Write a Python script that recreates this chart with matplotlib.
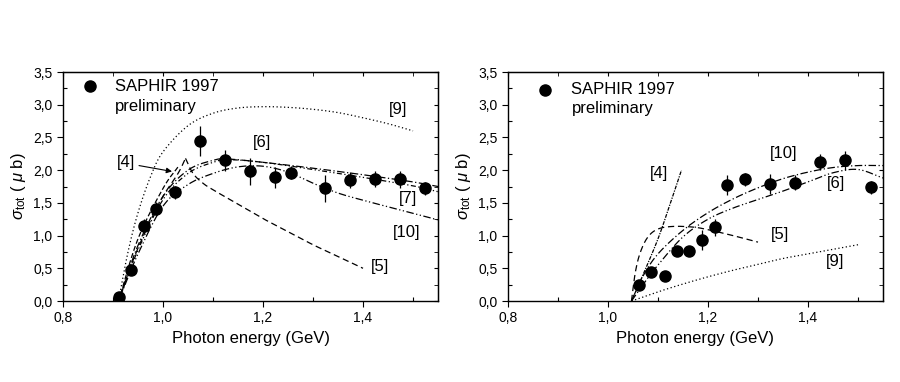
import numpy as np
import matplotlib
matplotlib.use("Agg")
import matplotlib.pyplot as plt
from matplotlib.ticker import MultipleLocator, FuncFormatter

plt.rcParams['font.family'] = ['Liberation Sans', 'DejaVu Sans']
plt.rcParams['mathtext.fontset'] = 'custom'
plt.rcParams['mathtext.rm'] = 'Liberation Sans'
plt.rcParams['mathtext.it'] = 'Liberation Sans:italic'

# ---- left panel: SAPHIR data ----
left_e = [0.911, 0.936, 0.961, 0.986, 1.024, 1.074, 1.124, 1.174, 1.224, 1.256,
          1.324, 1.374, 1.424, 1.474, 1.524]
left_s = [0.06, 0.48, 1.15, 1.41, 1.66, 2.45, 2.15, 1.98, 1.89, 1.96,
          1.72, 1.85, 1.86, 1.86, 1.72]
left_err = [0.03, 0.06, 0.1, 0.1, 0.1, 0.23, 0.16, 0.2, 0.16, 0.1,
            0.2, 0.12, 0.12, 0.13, 0.1]

# model curves, left
l9_x = [0.911, 0.93, 0.95, 0.975, 1.0, 1.05, 1.1, 1.15, 1.2, 1.25, 1.3, 1.35, 1.4, 1.45, 1.5]
l9_y = [0.0, 0.75, 1.35, 1.9, 2.28, 2.68, 2.87, 2.95, 2.97, 2.96, 2.93, 2.88, 2.8, 2.71, 2.6]
l5a_x = [0.911, 0.94, 0.97, 1.0, 1.03, 1.045]
l5a_y = [0.0, 0.62, 1.15, 1.6, 1.95, 2.18]
l5b_x = [1.045, 1.06, 1.08, 1.1, 1.15, 1.2, 1.25, 1.3, 1.35, 1.4]
l5b_y = [2.18, 1.95, 1.8, 1.7, 1.48, 1.26, 1.06, 0.86, 0.68, 0.5]
l4_x = [0.911, 0.95, 1.0, 1.03]
l4_y = [0.0, 0.95, 1.72, 2.05]
l6_x = [0.911, 0.95, 1.0, 1.05, 1.1, 1.13, 1.2, 1.3, 1.4, 1.5, 1.55]
l6_y = [0.0, 0.85, 1.6, 2.0, 2.15, 2.17, 2.12, 2.03, 1.93, 1.82, 1.75]
l7_y = [0.0, 0.78, 1.55, 1.95, 2.12, 2.16, 2.12, 2.01, 1.89, 1.76, 1.67]
l10_x = [0.911, 0.95, 1.0, 1.05, 1.1, 1.15, 1.2, 1.25, 1.3, 1.35, 1.4, 1.45, 1.5, 1.55]
l10_y = [0.0, 0.72, 1.45, 1.78, 1.95, 2.05, 2.06, 1.97, 1.8, 1.65, 1.54, 1.44, 1.34, 1.24]

# ---- right panel: SAPHIR data ----
right_e = [1.063, 1.087, 1.114, 1.139, 1.163, 1.189, 1.215, 1.238, 1.274,
           1.325, 1.375, 1.425, 1.475, 1.527]
right_s = [0.24, 0.44, 0.38, 0.77, 0.77, 0.93, 1.13, 1.77, 1.86,
           1.79, 1.81, 2.12, 2.15, 1.74]
right_err = [0.05, 0.07, 0.05, 0.06, 0.06, 0.15, 0.13, 0.15, 0.1,
             0.15, 0.12, 0.12, 0.15, 0.1]

r4_x = [1.047, 1.07, 1.1, 1.125, 1.147]
r4_y = [0.0, 0.4, 0.95, 1.5, 2.0]
r5_x = [1.047, 1.055, 1.065, 1.08, 1.1, 1.13, 1.17, 1.2, 1.25, 1.3]
r5_y = [0.0, 0.45, 0.75, 0.98, 1.1, 1.14, 1.13, 1.09, 1.0, 0.9]
r9_x = [1.047, 1.1, 1.15, 1.2, 1.25, 1.3, 1.35, 1.4, 1.45, 1.5]
r9_y = [0.0, 0.14, 0.26, 0.37, 0.47, 0.56, 0.65, 0.72, 0.79, 0.86]
r_x = [1.047, 1.07, 1.1, 1.15, 1.2, 1.25, 1.3, 1.35, 1.4, 1.45, 1.5, 1.55]
r10_y = [0.0, 0.38, 0.72, 1.08, 1.35, 1.56, 1.73, 1.87, 1.97, 2.04, 2.07, 2.07]
r6_y = [0.0, 0.25, 0.55, 0.98, 1.25, 1.42, 1.55, 1.68, 1.82, 1.96, 2.01, 1.88]


def smooth(x, y, n=25):
    # Catmull-Rom spline through the read-off points
    p = np.column_stack([x, y]).astype(float)
    p = np.vstack([2 * p[0] - p[1], p, 2 * p[-1] - p[-2]])
    out = []
    t = np.linspace(0, 1, n, endpoint=False)[:, None]
    for i in range(1, len(p) - 2):
        p0, p1, p2, p3 = p[i - 1], p[i], p[i + 1], p[i + 2]
        seg = 0.5 * (2 * p1 + (-p0 + p2) * t + (2 * p0 - 5 * p1 + 4 * p2 - p3) * t ** 2
                     + (-p0 + 3 * p1 - 3 * p2 + p3) * t ** 3)
        out.append(seg)
    out.append(p[-2][None, :])
    out = np.vstack(out)
    return out[:, 0], out[:, 1]


def comma(v, pos):
    return f"{v:.1f}".replace('.', ',')


def style_axes(ax):
    ax.set_xlim(0.8, 1.55)
    ax.set_ylim(0, 3.5)
    ax.xaxis.set_major_locator(MultipleLocator(0.2))
    ax.xaxis.set_minor_locator(MultipleLocator(0.1))
    ax.yaxis.set_major_locator(MultipleLocator(0.5))
    ax.yaxis.set_minor_locator(MultipleLocator(0.25))
    ax.xaxis.set_major_formatter(FuncFormatter(comma))
    ax.yaxis.set_major_formatter(FuncFormatter(comma))
    ax.tick_params(which='major', direction='out', length=4, width=0.8, labelsize=10)
    ax.tick_params(which='minor', direction='in', length=3, width=0.8)
    for s in ax.spines.values():
        s.set_linewidth(1.0)
    top = ax.secondary_xaxis('top')
    top.xaxis.set_major_locator(MultipleLocator(0.2))
    top.xaxis.set_minor_locator(MultipleLocator(0.1))
    top.tick_params(which='both', direction='in', labeltop=False, length=3)
    right = ax.secondary_yaxis('right')
    right.yaxis.set_major_locator(MultipleLocator(0.5))
    right.yaxis.set_minor_locator(MultipleLocator(0.25))
    right.tick_params(which='both', direction='in', labelright=False, length=3)
    ax.set_xlabel('Photon energy (GeV)', fontsize=12)
    ax.set_ylabel(r'$\sigma_{\rm tot}$ ( $\mu$ b)', fontsize=12)


fig = plt.figure(figsize=(9, 3.82), dpi=100)
ax1 = fig.add_axes([0.07, 0.212, 0.4167, 0.5995])
ax2 = fig.add_axes([0.5644, 0.212, 0.4167, 0.5995])

lw = 0.9
fs = 12
# left panel curves
ax1.plot(*smooth(l9_x, l9_y), color='black', lw=lw, ls=(0, (1, 2)))
ax1.plot(*smooth(l5a_x, l5a_y), color='black', lw=lw, ls=(0, (5, 3)))
ax1.plot(*smooth(l5b_x, l5b_y), color='black', lw=lw, ls=(0, (5, 3)))
ax1.plot(*smooth(l4_x, l4_y), color='black', lw=lw, ls=(0, (4, 2)))
ax1.plot(*smooth(l6_x, l6_y), color='black', lw=lw, ls=(0, (6, 2, 1, 2)))
ax1.plot(*smooth(l6_x, l7_y), color='black', lw=lw, ls=(0, (4, 2, 1, 2, 1, 2)))
ax1.plot(*smooth(l10_x, l10_y), color='black', lw=lw, ls=(0, (6, 2, 1, 2, 1, 2)))
ax1.errorbar(left_e, left_s, yerr=left_err, fmt='o', color='black', ms=8,
             elinewidth=0.9, capsize=0, zorder=5)

ax1.plot([0.853], [3.28], 'o', color='black', ms=8)
ax1.text(0.904, 3.28, 'SAPHIR 1997', fontsize=fs, va='center')
ax1.text(0.904, 2.98, 'preliminary', fontsize=fs, va='center')
ax1.text(1.47, 2.93, '[9]', fontsize=fs, ha='center', va='center')
ax1.text(1.198, 2.42, '[6]', fontsize=fs, ha='center', va='center')
ax1.text(1.49, 1.56, '[7]', fontsize=fs, ha='center', va='center')
ax1.text(1.487, 1.04, '[10]', fontsize=fs, ha='center', va='center')
ax1.text(1.434, 0.53, '[5]', fontsize=fs, ha='center', va='center')
ax1.text(0.926, 2.11, '[4]', fontsize=fs, ha='center', va='center')
ax1.annotate('', xy=(1.018, 1.98), xytext=(0.952, 2.07),
             arrowprops=dict(arrowstyle='-|>', color='black', lw=0.8,
                             shrinkA=0, shrinkB=0, mutation_scale=8))

# right panel curves
ax2.plot(*smooth(r9_x, r9_y), color='black', lw=lw, ls=(0, (1, 2)))
ax2.plot(*smooth(r5_x, r5_y), color='black', lw=lw, ls=(0, (5, 3)))
ax2.plot(*smooth(r4_x, r4_y), color='black', lw=lw, ls=(0, (3, 1, 1, 1)))
ax2.plot(*smooth(r_x, r10_y), color='black', lw=lw, ls=(0, (6, 2, 1, 2)))
ax2.plot(*smooth(r_x, r6_y), color='black', lw=lw, ls=(0, (6, 2, 1, 2, 1, 2)))
ax2.errorbar(right_e, right_s, yerr=right_err, fmt='o', color='black', ms=8,
             elinewidth=0.9, capsize=0, zorder=5)

ax2.plot([0.874], [3.23], 'o', color='black', ms=8)
ax2.text(0.927, 3.23, 'SAPHIR 1997', fontsize=fs, va='center')
ax2.text(0.927, 2.94, 'preliminary', fontsize=fs, va='center')
ax2.text(1.351, 2.26, '[10]', fontsize=fs, ha='center', va='center')
ax2.text(1.457, 1.80, '[6]', fontsize=fs, ha='center', va='center')
ax2.text(1.344, 1.01, '[5]', fontsize=fs, ha='center', va='center')
ax2.text(1.454, 0.60, '[9]', fontsize=fs, ha='center', va='center')
ax2.text(1.103, 1.95, '[4]', fontsize=fs, ha='center', va='center')

for ax in (ax1, ax2):
    style_axes(ax)

fig.savefig('out.png', dpi=100)
